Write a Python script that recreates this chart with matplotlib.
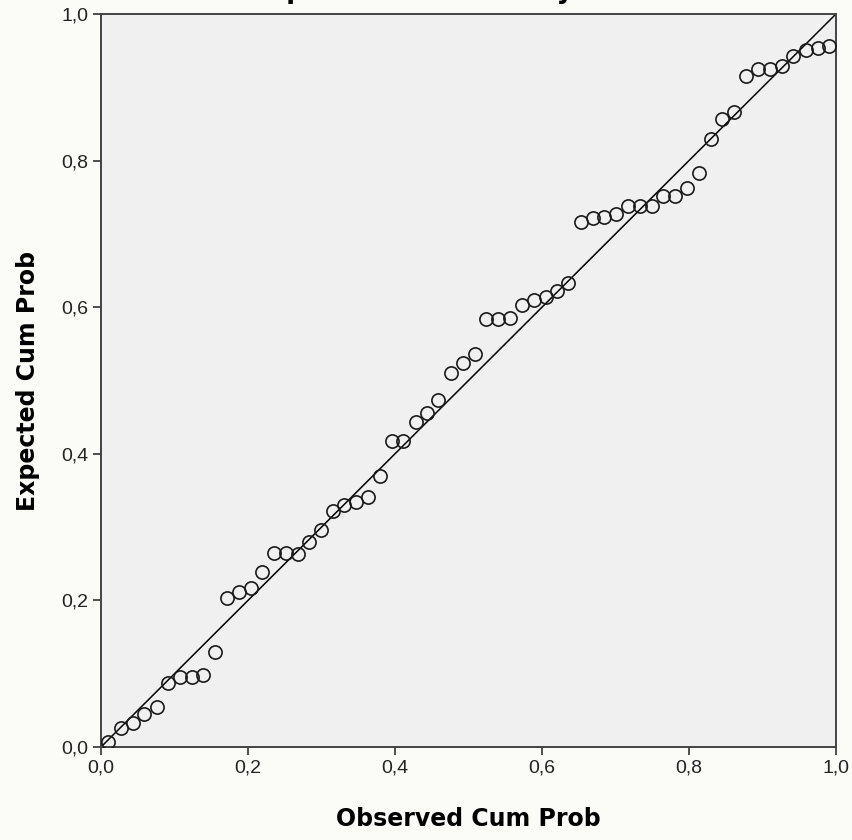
import matplotlib
matplotlib.use("Agg")
import matplotlib.pyplot as plt

# observed vs expected cumulative probability
observed = [0.0095, 0.0272, 0.0435, 0.0585, 0.0762, 0.0912, 0.1075, 0.1238, 0.1388, 0.1550,
            0.1714, 0.1878, 0.2040, 0.2190, 0.2354, 0.2517, 0.2680, 0.2830, 0.2993, 0.3156,
            0.3306, 0.3470, 0.3633, 0.3796, 0.3959, 0.4109, 0.4286, 0.4435, 0.4585, 0.4762,
            0.4925, 0.5088, 0.5238, 0.5401, 0.5565, 0.5728, 0.5891, 0.6054, 0.6204, 0.6354,
            0.6531, 0.6694, 0.6844, 0.7007, 0.7170, 0.7333, 0.7497, 0.7646, 0.7810, 0.7973,
            0.8136, 0.8299, 0.8449, 0.8612, 0.8776, 0.8939, 0.9102, 0.9265, 0.9415, 0.9592,
            0.9755, 0.9905]
expected = [0.0068, 0.0259, 0.0327, 0.0450, 0.0546, 0.0873, 0.0955, 0.0955, 0.0982, 0.1296,
            0.2033, 0.2115, 0.2169, 0.2387, 0.2647, 0.2647, 0.2633, 0.2797, 0.2960, 0.3220,
            0.3300, 0.3342, 0.3410, 0.3697, 0.4175, 0.4175, 0.4434, 0.4557, 0.4734, 0.5102,
            0.5239, 0.5362, 0.5839, 0.5839, 0.5853, 0.6030, 0.6098, 0.6139, 0.6221, 0.6330,
            0.7162, 0.7217, 0.7231, 0.7271, 0.7380, 0.7380, 0.7380, 0.7517, 0.7517, 0.7626,
            0.7831, 0.8295, 0.8568, 0.8663, 0.9154, 0.9250, 0.9250, 0.9291, 0.9427, 0.9509,
            0.9536, 0.9564]

ticks = [0.0, 0.2, 0.4, 0.6, 0.8, 1.0]
tick_labels = ["0,0", "0,2", "0,4", "0,6", "0,8", "1,0"]

plt.rcParams["font.family"] = ["Liberation Sans", "DejaVu Sans"]

fig = plt.figure(figsize=(8.53, 8.40), dpi=100, facecolor="#fbfbf8")
ax = fig.add_axes([0.1184, 0.1107, 0.8616, 0.8726])
ax.set_facecolor("#f0f0f0")

# reference diagonal
ax.plot([0, 1], [0, 1], color="black", linewidth=1.1, zorder=2)
ax.plot(observed, expected, linestyle="none", marker="o", markersize=9.5,
        markerfacecolor="none", markeredgecolor="#1a1a1a", markeredgewidth=1.2, zorder=3)

ax.set_xlim(0, 1)
ax.set_ylim(0, 1)
ax.set_xticks(ticks)
ax.set_xticklabels(tick_labels)
ax.set_yticks(ticks)
ax.set_yticklabels(tick_labels)
ax.tick_params(direction="out", length=6, width=1.2, color="#333333",
               labelsize=14, labelcolor="#222222", pad=3)

for s in ax.spines.values():
    s.set_color("#444444")
    s.set_linewidth(1.4)

lab_font = dict(fontsize=17, fontweight="bold", family="DejaVu Sans")
ax.set_xlabel("Observed Cum Prob", **lab_font)
ax.set_ylabel("Expected Cum Prob", **lab_font)
ax.xaxis.label.set_va("center")
ax.yaxis.label.set_va("center")
ax.xaxis.set_label_coords(0.5, -0.098)
ax.yaxis.set_label_coords(-0.099, 0.5)

# title is cut off at the top edge of the image, only descenders show
fig.text(0.289, 1.002, "Dependent Variable: y", ha="left", va="baseline",
         fontsize=18.7, fontweight="bold", family="DejaVu Sans")

fig.savefig("out.png", dpi=100, facecolor=fig.get_facecolor())
